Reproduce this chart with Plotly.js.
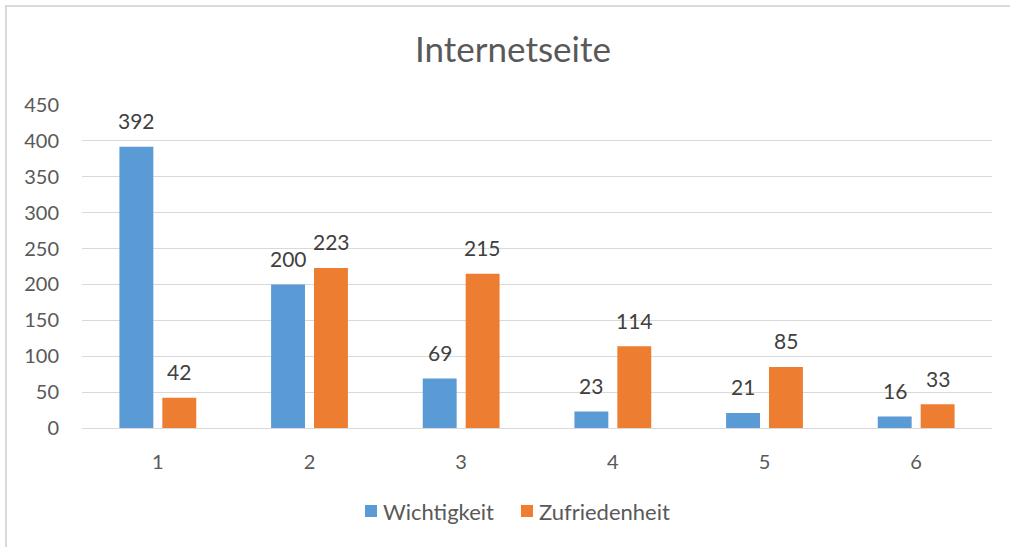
<!DOCTYPE html>
<html><head><meta charset="utf-8">
<script src="https://cdn.plot.ly/plotly-3.0.1.min.js"></script>
<style>html,body{margin:0;padding:0;background:#fff}#chart{width:1010px;height:547px}</style>
</head><body><div id="chart"></div>
<script>
const categories = ["1","2","3","4","5","6"];
const wichtigkeit = [392,200,69,23,21,16];
const zufriedenheit = [42,223,215,114,85,33];
const seriesNames = ["Wichtigkeit","Zufriedenheit"];
const seriesColors = ['#5b9bd5','#ed7d31'];
const titleText = "Internetseite";

const FONT = "Lato, 'Open Sans', sans-serif";
const W=1010,H=547,L=82,R=992,T=105,B=428;
const pw=R-L, ph=B-T;
const allSeries=[wichtigkeit,zufriedenheit];

const traces = allSeries.map((vals,i)=>({
  type:'bar', name:seriesNames[i], x:categories, y:vals,
  marker:{color:seriesColors[i]}, hoverinfo:'x+y', showlegend:false
}));

// data labels (x given as category index)
const annotations=[];
allSeries.forEach((vals,i)=>{
  vals.forEach((v,j)=>{
    annotations.push({x:j, y:v, xref:'x', yref:'y', text:String(v), showarrow:false,
      xanchor:'center', yanchor:'middle', xshift:(i===0?-21.5:21.5), yshift:26,
      font:{family:FONT,size:21,color:'#404040'}});
  });
});
// legend (manual)
const legendItems=[{sx:365,tx:381},{sx:521,tx:537}];
const shapes=[{type:'rect', xref:'paper', yref:'paper', x0:(6-L)/pw, x1:(1020-L)/pw, y0:(B-555)/ph, y1:(B-6)/ph, line:{color:'#d9d9d9',width:2}, fillcolor:'rgba(0,0,0,0)', layer:'below'}];
const legY=511;
seriesNames.forEach((n,i)=>{
  const it=legendItems[i];
  shapes.push({type:'rect', xref:'paper', yref:'paper', x0:(it.sx-L)/pw, x1:(it.sx+12-L)/pw, y0:(B-legY-6)/ph, y1:(B-legY+6)/ph, line:{width:0}, fillcolor:seriesColors[i]});
  annotations.push({xref:'paper', yref:'paper', x:(it.tx-L)/pw, y:(B-legY)/ph, text:n, showarrow:false, xanchor:'left', yanchor:'middle', font:{family:FONT,size:22,color:'#595959'}});
});

const layout = {
  width:W, height:H,
  margin:{l:L, r:W-R, t:T, b:H-B, pad:0},
  paper_bgcolor:'#fff', plot_bgcolor:'#fff',
  font:{family:FONT, color:'#595959', size:20},
  title:{text:titleText, font:{family:FONT,size:35,color:'#595959'}, x:(513-L)/pw, xanchor:'center', xref:'paper', y:1-50/H, yanchor:'middle'},
  barmode:'group', bargap:0.434, bargroupgap:0.21,
  xaxis:{type:'category', range:[-0.5, categories.length-0.5], autorange:false, showgrid:false, showline:false, zeroline:false, ticks:'', tickfont:{family:FONT,size:20,color:'#595959'}, ticklabelstandoff:20},
  yaxis:{range:[0,450], autorange:false, dtick:50, tick0:0, showgrid:true, gridcolor:'#d9d9d9', gridwidth:1, zeroline:true, zerolinecolor:'#d9d9d9', zerolinewidth:1, showline:false, ticks:'', tickfont:{family:FONT,size:20,color:'#595959'}, ticklabelstandoff:22, automargin:false},
  showlegend:false,
  annotations:annotations,
  shapes:shapes
};
Plotly.newPlot('chart', traces, layout, {displayModeBar:false, staticPlot:true});
</script></body></html>
